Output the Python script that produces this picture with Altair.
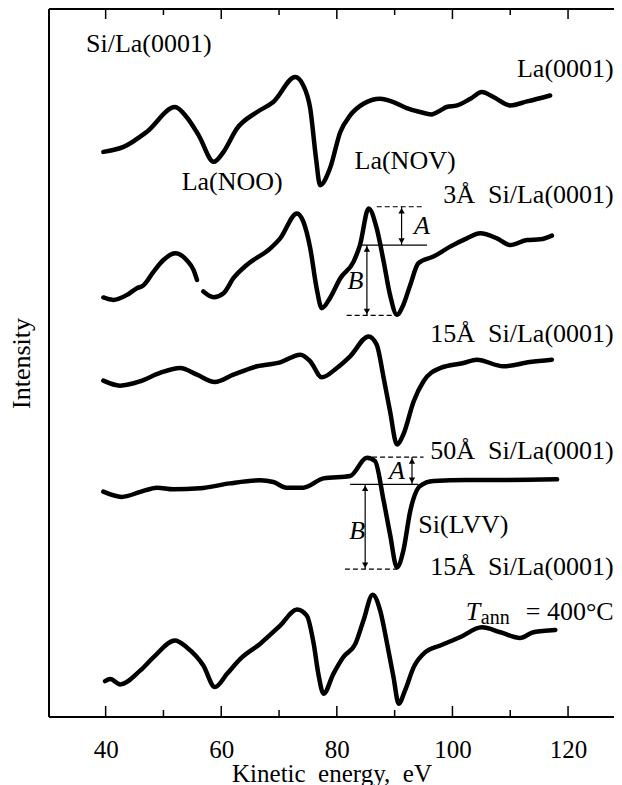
import altair as alt
import pandas as pd

FONT = "Liberation Serif"

# ---------------- data (energy in eV, intensity in arbitrary offset units) ----
la_ev = [39.6, 43.1, 47.1, 52.0, 54.0, 56.1, 58.7, 60.4, 62.7, 66.2, 69.0, 72.8, 74.2,
         75.4, 76.4, 77.1, 78.8, 80.6, 82.3, 84.6, 87.5, 89.8, 92.1, 94.4, 96.4, 97.9,
         99.0, 100.8, 103.1, 105.1, 107.1, 110.0, 112.9, 116.9]
la_int = [566.7, 571.7, 586.7, 611.7, 601.7, 583.3, 556.7, 566.7, 590, 606.7, 616.7, 641.7,
          633.3, 610, 560, 533.3, 550, 586.7, 603.3, 615, 620, 616.7, 610.7, 606.7, 604.3,
          608.3, 611.7, 613.3, 620, 626.7, 621.7, 613.3, 617.3, 623.3]

si3a_ev = [39.6, 41.3, 43.7, 45.4, 46.5, 48.3, 50.0, 52.0, 54.0, 55.2, 55.8]
si3a_int = [420.7, 418.3, 423.3, 430, 432.7, 446.7, 458.3, 465, 458.3, 448.3, 438.3]
si3b_ev = [56.9, 58.7, 60.4, 62.1, 64.4, 68.5, 70.2, 73.1, 74.2, 75.4, 76.5, 77.4, 78.8,
           80.6, 82.9, 84.0, 85.5, 86.9, 88.1, 89.2, 90.4, 91.5, 92.7, 94.1, 96.7, 99.6,
           102.5, 104.8, 107.7, 110.0, 112.9, 115.2, 117.2]
si3b_int = [426.7, 421, 425, 440, 453.3, 470, 480, 505, 496.7, 470, 430, 410, 420, 440,
            456.7, 473.3, 510, 490, 456.7, 423.3, 403.3, 413.3, 433.3, 455, 461.7, 471.7,
            480, 485, 480, 473.3, 478.3, 479, 482.7]

si15_ev = [39.6, 42.5, 46.0, 49.4, 52.9, 55.8, 58.9, 62.1, 66.2, 70.2, 73.7, 75.4, 77.4,
           80.0, 82.3, 85.5, 86.9, 88.1, 89.2, 90.4, 91.5, 93.3, 95.0, 97.9, 101.9, 104.2,
           108.8, 113.4, 117.2]
si15_int = [337.3, 332.3, 336.7, 345, 350, 343.3, 336, 343.3, 351.7, 355.7, 363.3, 356.7,
            340.7, 350, 361.7, 381.7, 373.3, 340, 306.7, 273.3, 283.3, 316.7, 336.7, 350,
            355, 358.3, 351.7, 356, 358.3]

si50_ev = [39.6, 42.8, 46.0, 48.9, 51.7, 56.3, 61.5, 66.7, 69.0, 71.3, 74.2, 77.7, 82.3,
           85.2, 86.6, 88.1, 89.2, 90.4, 91.5, 92.7, 94.4, 96.7, 102.5, 108.3, 118.1]
si50_int = [226, 220.7, 225.7, 230, 228.3, 229.3, 234.3, 237.3, 235.7, 230, 230, 239.3,
            241.7, 260, 256.7, 216.7, 183.3, 150, 166.7, 206.7, 231.7, 236.7, 237.7, 237.7,
            238.3]

ann_ev = [39.9, 40.8, 42.5, 46.0, 48.3, 52.0, 54.0, 56.9, 58.9, 61.0, 63.3, 66.7, 70.2,
          73.1, 74.8, 76.0, 76.8, 77.7, 79.4, 81.1, 83.2, 84.6, 86.2, 87.5, 88.7, 89.8,
          90.7, 91.8, 93.3, 95.3, 97.9, 101.3, 105.1, 108.3, 111.7, 114.0, 117.8]
ann_int = [36, 38, 32.7, 46.7, 60, 76.7, 70, 51.7, 30, 43.3, 58.3, 73.3, 91.7, 107.7,
           101.7, 73.3, 43.3, 23.3, 43.3, 60, 73.3, 96.7, 122.7, 106.7, 73.3, 40, 13.3,
           26.7, 50, 65, 71.7, 80, 90, 85, 79.3, 85, 87.3]

# axis ticks
major_ticks = [40, 60, 80, 100, 120]
minor_ticks = [50, 70, 90, 110]

# A/B annotation guides
dash_x1 = [86.9, 81.7, 86.1, 81.4]
dash_x2 = [94.7, 90.4, 95.0, 90.4]
dash_y = [511.7, 402.7, 260.7, 148.3]
base_x1 = [83.7, 82.3]
base_x2 = [95.6, 94.1]
base_y = [473.3, 233.3]
arrow_x = [91.2, 85.2, 93.0, 84.9]
arrow_top = [511.7, 473.3, 260.7, 233.3]
arrow_bot = [473.3, 402.7, 233.3, 148.3]

# labels
lab_text = ["Si/La(0001)", "La(0001)", "La(NOO)", "La(NOV)", "3Å\u00a0\u00a0Si/La(0001)",
            "15Å\u00a0\u00a0Si/La(0001)", "50Å\u00a0\u00a0Si/La(0001)", "Si(LVV)",
            "15Å\u00a0\u00a0Si/La(0001)", "= 400°C"]
lab_x = [36.6, 127.9, 61.9, 91.8, 127.9, 127.9, 127.9, 94.1, 127.9, 127.9]
lab_y = [675, 650, 537, 558, 523, 384, 267, 193, 150, 105]
lab_align = ["left", "right", "center", "center", "right", "right", "right", "left",
             "right", "right"]
ital_text = ["A", "B", "A", "B"]
ital_x = [94.7, 83.2, 90.4, 83.5]
ital_y = [492, 437, 247, 187]
t_text, t_x, t_y = ["T"], [102.3], [105]
sub_text, sub_x, sub_y = ["ann"], [104.9], [99]

# ---------------- build tables ----------------
rows = []
def add(name, evs, ints):
    for i, (e, v) in enumerate(zip(evs, ints)):
        rows.append({"seg": name, "idx": i, "ev": e, "I": v})
add("la", la_ev, la_int)
add("si3a", si3a_ev, si3a_int)
add("si3b", si3b_ev, si3b_int)
add("si15", si15_ev, si15_int)
add("si50", si50_ev, si50_int)
add("ann", ann_ev, ann_int)
curves = pd.DataFrame(rows)

W, H = 565, 708
FS = 26
xs = alt.Scale(domain=[30.2, 127.95], nice=False, zero=False)
ys = alt.Scale(domain=[0, 710], nice=False, zero=False)

X = alt.X("ev:Q", scale=xs,
          axis=alt.Axis(values=major_ticks, ticks=False, domain=False, grid=False,
                        labelFont=FONT, labelFontSize=25, labelColor="black",
                        labelPadding=20, title="Kinetic\u00a0\u00a0energy,\u00a0\u00a0eV",
                        titleFont=FONT, titleFontSize=25, titleFontWeight="normal",
                        titleColor="black", titlePadding=-1))
Y = alt.Y("I:Q", scale=ys,
          axis=alt.Axis(labels=False, ticks=False, domain=False, grid=False,
                        title="Intensity", titleFont=FONT, titleFontSize=FS,
                        titleFontWeight="normal", titleColor="black", titlePadding=15))

lines = alt.Chart(curves).mark_line(color="black", strokeWidth=4.5, strokeCap="round",
                                    strokeJoin="round", interpolate="monotone").encode(
    x=X, y=Y, detail="seg:N", order="idx:Q")

# frame (left, top, bottom)
frame_df = pd.DataFrame({"k": [0]})
frame_left = alt.Chart(frame_df).mark_rule(color="black", strokeWidth=2).encode(
    x=alt.value(0), y=alt.value(0), y2=alt.value(H))
frame_top = alt.Chart(frame_df).mark_rule(color="black", strokeWidth=2).encode(
    x=alt.value(0), x2=alt.value(W), y=alt.value(0))
frame_bot = alt.Chart(frame_df).mark_rule(color="black", strokeWidth=2).encode(
    x=alt.value(0), x2=alt.value(W), y=alt.value(H))

tick_df_major = pd.DataFrame({"t": major_ticks})
tick_df_minor = pd.DataFrame({"t": minor_ticks})
def ticks(df, y0, y1):
    return alt.Chart(df).mark_rule(color="black", strokeWidth=1.5).encode(
        x=alt.X("t:Q", scale=xs), y=alt.value(y0), y2=alt.value(y1))
tk = (ticks(tick_df_major, H, H - 11) + ticks(tick_df_minor, H, H - 7)
      + ticks(tick_df_major, 0, 10) + ticks(tick_df_minor, 0, 6))

dash_df = pd.DataFrame({"x1": dash_x1, "x2": dash_x2, "y": dash_y})
dashes = alt.Chart(dash_df).mark_rule(color="black", strokeWidth=1.2,
                                      strokeDash=[5, 3]).encode(
    x=alt.X("x1:Q", scale=xs), x2="x2:Q", y=alt.Y("y:Q", scale=ys))
base_df = pd.DataFrame({"x1": base_x1, "x2": base_x2, "y": base_y})
bases = alt.Chart(base_df).mark_rule(color="black", strokeWidth=1.2).encode(
    x=alt.X("x1:Q", scale=xs), x2="x2:Q", y=alt.Y("y:Q", scale=ys))
arr_df = pd.DataFrame({"x": arrow_x, "top": arrow_top, "bot": arrow_bot})
arrows = alt.Chart(arr_df).mark_rule(color="black", strokeWidth=1.2).encode(
    x=alt.X("x:Q", scale=xs), y=alt.Y("top:Q", scale=ys), y2="bot:Q")
heads_up = alt.Chart(arr_df).mark_point(shape="triangle-up", filled=True, color="black",
                                        size=40, opacity=1, yOffset=4).encode(
    x=alt.X("x:Q", scale=xs), y=alt.Y("top:Q", scale=ys))
heads_dn = alt.Chart(arr_df).mark_point(shape="triangle-down", filled=True, color="black",
                                        size=40, opacity=1, yOffset=-4).encode(
    x=alt.X("x:Q", scale=xs), y=alt.Y("bot:Q", scale=ys))

lab_df = pd.DataFrame({"t": lab_text, "x": lab_x, "y": lab_y, "a": lab_align})
texts = []
for al in ["left", "right", "center"]:
    texts.append(alt.Chart(lab_df[lab_df.a == al]).mark_text(
        font=FONT, fontSize=FS, color="black", align=al, baseline="middle").encode(
        x=alt.X("x:Q", scale=xs), y=alt.Y("y:Q", scale=ys), text="t:N"))
ital_df = pd.DataFrame({"t": ital_text, "x": ital_x, "y": ital_y})
itals = alt.Chart(ital_df).mark_text(font=FONT, fontSize=FS, fontStyle="italic",
                                     color="black", align="center", baseline="middle").encode(
    x=alt.X("x:Q", scale=xs), y=alt.Y("y:Q", scale=ys), text="t:N")
t_df = pd.DataFrame({"t": t_text, "x": t_x, "y": t_y})
tmark = alt.Chart(t_df).mark_text(font=FONT, fontSize=FS, fontStyle="italic",
                                  color="black", align="left", baseline="middle").encode(
    x=alt.X("x:Q", scale=xs), y=alt.Y("y:Q", scale=ys), text="t:N")
sub_df = pd.DataFrame({"t": sub_text, "x": sub_x, "y": sub_y})
sub = alt.Chart(sub_df).mark_text(font=FONT, fontSize=20, color="black", align="left",
                                  baseline="middle").encode(
    x=alt.X("x:Q", scale=xs), y=alt.Y("y:Q", scale=ys), text="t:N")

chart = alt.layer(lines, frame_left, frame_top, frame_bot, tk, dashes, bases, arrows,
                  heads_up, heads_dn, *texts, itals, tmark, sub).properties(
    width=W, height=H,
    autosize=alt.AutoSizeParams(type="none"),
    padding={"left": 41, "top": 1, "right": 0, "bottom": 68},
).configure(background="white"
).configure_view(stroke=None
).configure_axis(labelFont=FONT, labelColor="black",
                 titleFont=FONT, titleFontWeight="normal", titleColor="black")

chart.save("out.html", embed_options={"renderer": "svg", "actions": False})
